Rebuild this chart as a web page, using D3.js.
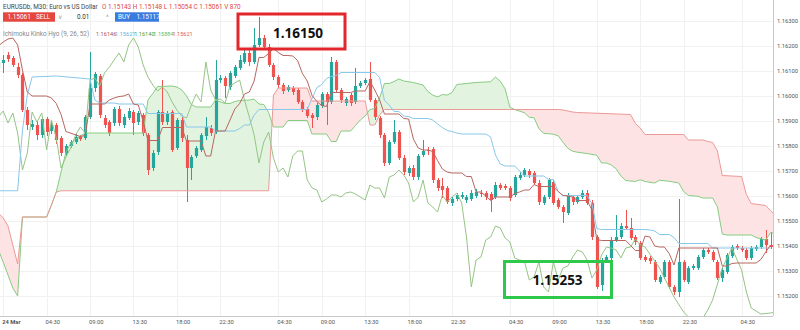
<!DOCTYPE html>
<html>
<head>
<meta charset="utf-8">
<script src="https://cdn.jsdelivr.net/npm/d3@7"></script>
<style>
  body { margin: 0; background: #fff; }
  svg { display: block; font-family: Roboto, "Noto Sans", sans-serif; }
</style>
</head>
<body>
<script>
// EURUSDb M30 candles, bar index -1 = 24 Mar 00:00, one bar per 30 min
const firstBar = -2;
// [open, high, low, close]
const candles = [
  [1.16112,1.16152,1.16088,1.16136],[1.16132,1.16164,1.16092,1.16144],[1.16164,1.16176,1.16136,1.16148],
  [1.16152,1.16160,1.16116,1.16124],[1.16116,1.16132,1.16072,1.16084],[1.16084,1.16092,1.15936,1.15944],
  [1.15944,1.15956,1.15864,1.15884],[1.15876,1.15904,1.15864,1.15888],[1.15884,1.15900,1.15824,1.15844],
  [1.15844,1.15916,1.15832,1.15908],[1.15908,1.15916,1.15840,1.15856],[1.15860,1.15896,1.15848,1.15884],
  [1.15884,1.15892,1.15808,1.15824],[1.15832,1.15840,1.15760,1.15772],[1.15772,1.15808,1.15760,1.15800],
  [1.15800,1.15824,1.15792,1.15816],[1.15816,1.15848,1.15808,1.15836],[1.15836,1.15844,1.15820,1.15828],
  [1.15832,1.15924,1.15824,1.15916],[1.15916,1.16176,1.15908,1.16032],[1.16032,1.16096,1.16016,1.16088],
  [1.16080,1.16088,1.15912,1.15924],[1.15912,1.15924,1.15872,1.15884],[1.15896,1.15904,1.15840,1.15852],
  [1.15892,1.15956,1.15880,1.15948],[1.15948,1.15960,1.15880,1.15892],[1.15884,1.15928,1.15872,1.15916],
  [1.15912,1.15952,1.15904,1.15940],[1.15936,1.15944,1.15844,1.15892],[1.15896,1.15940,1.15884,1.15932],
  [1.15924,1.15932,1.15840,1.15852],[1.15844,1.15852,1.15684,1.15704],[1.15712,1.15784,1.15700,1.15772],
  [1.15776,1.15944,1.15764,1.15936],[1.15936,1.16064,1.15884,1.15896],[1.15896,1.15940,1.15884,1.15932],
  [1.15936,1.15944,1.15776,1.15784],[1.15792,1.15912,1.15784,1.15904],[1.15904,1.15916,1.15816,1.15832],
  [1.15824,1.15844,1.15576,1.15712],[1.15712,1.15764,1.15664,1.15756],[1.15760,1.15800,1.15752,1.15792],
  [1.15784,1.15852,1.15776,1.15844],[1.15840,1.15916,1.15824,1.15876],[1.15872,1.15884,1.15840,1.15852],
  [1.15856,1.16144,1.15848,1.16064],[1.16064,1.16084,1.16052,1.16072],[1.16072,1.16080,1.15992,1.16040],
  [1.16036,1.16100,1.16024,1.16092],[1.16080,1.16124,1.16072,1.16116],[1.16112,1.16164,1.16104,1.16144],
  [1.16136,1.16192,1.16128,1.16172],[1.16172,1.16184,1.16120,1.16136],[1.16136,1.16272,1.16128,1.16204],
  [1.16204,1.16316,1.16196,1.16232],[1.16232,1.16244,1.16184,1.16196],[1.16196,1.16208,1.16116,1.16124],
  [1.16124,1.16132,1.16064,1.16076],[1.16076,1.16084,1.16032,1.16044],[1.16044,1.16052,1.16008,1.16020],
  [1.16024,1.16044,1.16016,1.16036],[1.16032,1.16040,1.16004,1.16016],[1.16024,1.16032,1.15968,1.15976],
  [1.15976,1.15984,1.15936,1.15944],[1.15948,1.15956,1.15912,1.15920],[1.15924,1.15932,1.15872,1.15912],
  [1.15916,1.15972,1.15904,1.15964],[1.15960,1.16016,1.15952,1.16008],[1.16008,1.16016,1.15884,1.15976],
  [1.15976,1.16156,1.15968,1.16136],[1.16136,1.16144,1.16016,1.16024],[1.16024,1.16032,1.15972,1.15984],
  [1.15972,1.15996,1.15960,1.15988],[1.16004,1.16012,1.15960,1.15972],[1.15976,1.16112,1.15968,1.16040],
  [1.16040,1.16060,1.16032,1.16052],[1.16052,1.16072,1.16044,1.16064],[1.16068,1.16136,1.15976,1.15984],
  [1.15984,1.15992,1.15904,1.15916],[1.15912,1.15920,1.15832,1.15844],[1.15844,1.15852,1.15720,1.15732],
  [1.15732,1.15824,1.15724,1.15816],[1.15816,1.15904,1.15808,1.15856],[1.15856,1.15864,1.15744,1.15752],
  [1.15752,1.15764,1.15684,1.15696],[1.15692,1.15720,1.15680,1.15712],[1.15712,1.15724,1.15664,1.15676],
  [1.15676,1.15768,1.15664,1.15760],[1.15764,1.15824,1.15756,1.15780],[1.15784,1.15796,1.15764,1.15780],
  [1.15788,1.15796,1.15652,1.15664],[1.15664,1.15672,1.15620,1.15632],[1.15640,1.15672,1.15592,1.15624],
  [1.15632,1.15640,1.15568,1.15576],[1.15572,1.15596,1.15560,1.15588],[1.15588,1.15612,1.15580,1.15604],
  [1.15596,1.15616,1.15588,1.15604],[1.15584,1.15604,1.15572,1.15596],[1.15588,1.15624,1.15580,1.15612],
  [1.15600,1.15628,1.15592,1.15616],[1.15612,1.15624,1.15596,1.15608],[1.15612,1.15620,1.15584,1.15596],
  [1.15608,1.15616,1.15536,1.15584],[1.15596,1.15656,1.15588,1.15644],[1.15644,1.15652,1.15624,1.15632],
  [1.15640,1.15648,1.15624,1.15632],[1.15632,1.15640,1.15580,1.15592],[1.15604,1.15684,1.15596,1.15676],
  [1.15672,1.15696,1.15664,1.15684],[1.15684,1.15712,1.15676,1.15704],[1.15700,1.15708,1.15672,1.15684],
  [1.15692,1.15700,1.15644,1.15652],[1.15652,1.15664,1.15564,1.15576],[1.15572,1.15604,1.15564,1.15596],
  [1.15596,1.15672,1.15588,1.15664],[1.15656,1.15664,1.15564,1.15572],[1.15584,1.15592,1.15548,1.15556],
  [1.15556,1.15564,1.15492,1.15536],[1.15532,1.15612,1.15524,1.15604],[1.15596,1.15604,1.15564,1.15576],
  [1.15576,1.15604,1.15568,1.15596],[1.15596,1.15624,1.15588,1.15612],[1.15612,1.15624,1.15564,1.15572],
  [1.15572,1.15584,1.15424,1.15436],[1.15436,1.15444,1.15228,1.15236],[1.15244,1.15352,1.15220,1.15344],
  [1.15344,1.15364,1.15336,1.15356],[1.15352,1.15436,1.15344,1.15424],[1.15424,1.15524,1.15416,1.15436],
  [1.15436,1.15492,1.15428,1.15480],[1.15480,1.15544,1.15464,1.15472],[1.15472,1.15512,1.15424,1.15432],
  [1.15436,1.15444,1.15404,1.15416],[1.15412,1.15420,1.15344,1.15352],[1.15356,1.15364,1.15336,1.15344],
  [1.15352,1.15360,1.15328,1.15340],[1.15336,1.15344,1.15256,1.15264],[1.15256,1.15284,1.15248,1.15276],
  [1.15276,1.15344,1.15268,1.15336],[1.15336,1.15344,1.15228,1.15236],[1.15236,1.15244,1.15204,1.15216],
  [1.15216,1.15588,1.15196,1.15336],[1.15336,1.15344,1.15256,1.15264],[1.15256,1.15320,1.15248,1.15312],
  [1.15312,1.15328,1.15304,1.15320],[1.15312,1.15364,1.15304,1.15356],[1.15356,1.15392,1.15348,1.15384],
  [1.15384,1.15392,1.15368,1.15376],[1.15376,1.15384,1.15336,1.15344],[1.15336,1.15344,1.15264,1.15272],
  [1.15272,1.15312,1.15256,1.15304],[1.15296,1.15372,1.15288,1.15364],[1.15360,1.15404,1.15352,1.15396],
  [1.15400,1.15408,1.15384,1.15392],[1.15392,1.15400,1.15376,1.15384],[1.15384,1.15392,1.15344,1.15352],
  [1.15352,1.15400,1.15344,1.15392],[1.15388,1.15404,1.15380,1.15396],[1.15396,1.15436,1.15388,1.15428],
  [1.15428,1.15464,1.15372,1.15404],[1.15404,1.15456,1.15388,1.15396]
];

// Ichimoku lines: [bar, price] at each turning point
const tenkan = [
  [-2,1.16200],[-1,1.16216],[0,1.16228],[1,1.16232],[2,1.16204],[3,1.16104],[4,1.16016],[5,1.16000],[8,1.16000],
  [9,1.15992],[10,1.15970],[11,1.15926],[12,1.15858],[15,1.15838],[16,1.15842],[17,1.15968],[20,1.15968],
  [21,1.15984],[22,1.15992],[23,1.15998],[24,1.16000],[25,1.16008],[26,1.15968],[27,1.15964],[28,1.15900],
  [29,1.15822],[31,1.15822],[32,1.15874],[36,1.15874],[37,1.15820],[40,1.15820],[41,1.15760],[42,1.15760],
  [43,1.15860],[45,1.15860],[46,1.15904],[47,1.15948],[48,1.15970],[49,1.16008],[50,1.16016],[51,1.16060],
  [52,1.16154],[53,1.16154],[54,1.16170],[55,1.16190],[56,1.16174],[57,1.16162],[58,1.16162],[59,1.16160],
  [60,1.16142],[61,1.16090],[62,1.16060],[63,1.16002],[64,1.15978],[65,1.15962],[66,1.15958],[67,1.16014],
  [71,1.16014],[72,1.16020],[74,1.16020],[75,1.16058],[76,1.16024],[77,1.15984],[78,1.15928],[81,1.15928],
  [82,1.15910],[83,1.15908],[84,1.15828],[85,1.15792],[86,1.15784],[87,1.15784],[88,1.15778],[89,1.15742],
  [90,1.15708],[91,1.15696],[92,1.15692],[94,1.15692],[95,1.15678],[96,1.15678],[97,1.15616],[98,1.15616],
  [99,1.15600],[100,1.15582],[101,1.15596],[104,1.15596],[105,1.15610],[106,1.15616],[107,1.15624],[108,1.15624],
  [109,1.15646],[110,1.15638],[113,1.15638],[114,1.15618],[115,1.15602],[116,1.15600],[117,1.15596],[118,1.15582],
  [120,1.15582],[121,1.15544],[122,1.15426],[123,1.15422],[128,1.15422],[129,1.15402],[130,1.15382],[131,1.15382],
  [132,1.15440],[133,1.15436],[134,1.15400],[135,1.15396],[136,1.15396],[137,1.15370],[138,1.15324],[139,1.15392],
  [147,1.15392],[148,1.15320],[149,1.15320],[150,1.15330],[151,1.15332],[155,1.15332],[156,1.15346],[157,1.15376],
  [158,1.15404]
];
const kijun = [
  [-2,1.15621],[2,1.15621],[3,1.15864],[4,1.16004],[5,1.16076],[10,1.16080],[17,1.16068],[18,1.15984],[19,1.15972],
  [22,1.15972],[23,1.15968],[28,1.15968],[29,1.15930],[36,1.15930],[37,1.15876],[42,1.15876],[43,1.15860],
  [47,1.15860],[48,1.15870],[49,1.15884],[50,1.15884],[51,1.15924],[52,1.15946],[62,1.15946],[63,1.15990],
  [64,1.16034],[65,1.16046],[66,1.16070],[67,1.16078],[68,1.16082],[69,1.16094],[76,1.16094],[77,1.16074],
  [78,1.15982],[79,1.15964],[80,1.15938],[81,1.15938],[82,1.15920],[83,1.15918],[84,1.15910],[87,1.15910],
  [88,1.15904],[89,1.15888],[90,1.15874],[91,1.15862],[92,1.15858],[93,1.15852],[94,1.15848],[99,1.15848],
  [100,1.15836],[101,1.15764],[102,1.15728],[103,1.15720],[105,1.15720],[106,1.15700],[107,1.15680],[111,1.15680],
  [112,1.15666],[113,1.15666],[114,1.15618],[115,1.15602],[120,1.15602],[121,1.15568],[122,1.15470],[123,1.15466],
  [132,1.15466],[133,1.15464],[134,1.15460],[135,1.15446],[137,1.15446],[138,1.15434],[139,1.15410],[145,1.15410],
  [146,1.15392],[158,1.15392]
];
const spanA = [
  [-2,1.15384],[-1,1.15336],[0,1.15284],[1,1.15232],[2,1.15200],[3,1.15516],[8,1.15516],[9,1.15564],[10,1.15616],
  [11,1.15696],[12,1.15776],[13,1.15812],[14,1.15828],[15,1.15840],[16,1.15852],[28,1.15852],[29,1.15984],
  [30,1.16010],[31,1.16038],[34,1.16040],[35,1.16036],[36,1.16024],[37,1.16000],[38,1.15966],[39,1.15956],
  [42,1.15956],[43,1.15984],[44,1.15976],[45,1.15970],[46,1.15970],[47,1.15978],[48,1.15982],[50,1.15984],
  [51,1.15988],[52,1.15968],[53,1.15966],[54,1.15934],[55,1.15876],[57,1.15876],[58,1.15902],[62,1.15902],
  [63,1.15848],[66,1.15848],[67,1.15818],[68,1.15818],[69,1.15860],[71,1.15860],[72,1.15882],[73,1.15904],
  [74,1.15920],[75,1.15946],[76,1.15950],[77,1.15992],[78,1.16050],[79,1.16050],[80,1.16058],[81,1.16068],
  [82,1.16060],[84,1.16054],[86,1.16044],[87,1.16018],[88,1.16004],[89,1.15996],[90,1.16006],[91,1.16004],
  [92,1.16014],[93,1.16046],[94,1.16048],[97,1.16054],[100,1.16057],[101,1.16076],[102,1.16059],[103,1.16029],
  [104,1.15955],[105,1.15946],[107,1.15933],[108,1.15915],[109,1.15913],[110,1.15869],[111,1.15851],[113,1.15847],
  [114,1.15841],[115,1.15815],[116,1.15791],[117,1.15779],[118,1.15775],[120,1.15770],[122,1.15763],[123,1.15732],
  [124,1.15732],[125,1.15724],[126,1.15709],[127,1.15680],[128,1.15662],[130,1.15658],[131,1.15665],[132,1.15658],
  [134,1.15652],[135,1.15663],[137,1.15659],[139,1.15652],[140,1.15618],[141,1.15602],[143,1.15599],[144,1.15592],
  [146,1.15592],[147,1.15556],[148,1.15448],[149,1.15444],[154,1.15444],[155,1.15434],[157,1.15424],[158,1.15453],
  [159,1.15450],[160,1.15430]
];
const spanB = [
  [-2,1.15532],[-1,1.15512],[0,1.15480],[1,1.15404],[2,1.15328],[3,1.15516],[8,1.15516],[9,1.15564],[10,1.15616],
  [11,1.15621],[54,1.15621],[55,1.16004],[56,1.16032],[62,1.16032],[63,1.15980],[74,1.15980],[75,1.15884],
  [76,1.15884],[77,1.15924],[78,1.15946],[114,1.15946],[115,1.15944],[117,1.15936],[118,1.15934],[129,1.15926],
  [130,1.15890],[131,1.15872],[132,1.15846],[140,1.15846],[141,1.15824],[144,1.15824],[145,1.15818],[146,1.15814],
  [147,1.15780],[148,1.15682],[152,1.15678],[153,1.15606],[154,1.15570],[157,1.15562],[158,1.15542],[159,1.15522],
  [160,1.15516]
];
// lagging span past the last visible candle (closes of later bars, off the right edge)
const chikouTail = [
  [135,1.15312],[138,1.15196],[140,1.15136],[142,1.15096],[144,1.15112],[145,1.15144],[146,1.15184],
  [148,1.15312],[150,1.15392],[152,1.15304],[153,1.15216],[154,1.15152],[156,1.15128],[158,1.15132],[160,1.15140]
];

const priceTicks = [1.152, 1.153, 1.154, 1.155, 1.156, 1.157, 1.158, 1.159, 1.160, 1.161, 1.162, 1.163];
const timeTicks = [
  [-1,"24 Mar"],[8,"04:30"],[17,"09:00"],[26,"13:30"],[35,"18:00"],[44,"22:30"],[56,"04:30"],[65,"09:00"],
  [74,"13:30"],[83,"18:00"],[92,"22:30"],[104,"04:30"],[113,"09:00"],[122,"13:30"],[131,"18:00"],[140,"22:30"],
  [152,"04:30"]
];

const width = 800, height = 330;
const plotW = 773, plotH = 316;

const x = d3.scaleLinear().domain([0, 153]).range([8, 746.4]);
const y = d3.scaleLinear().domain([1.152, 1.163]).range([296, 21]);

const bars = candles.map((c, i) => ({ bar: firstBar + i, o: c[0], h: c[1], l: c[2], c: c[3] }));
// lagging span: close plotted 26 bars back
const chikou = bars.slice(26).map((d, i) => [bars[i].bar, d.c]).concat(chikouTail);

const svg = d3.select("body").append("svg")
  .attr("width", width).attr("height", height)
  .attr("viewBox", [0, 0, width, height]);

const defs = svg.append("defs");
defs.append("clipPath").attr("id", "plot")
  .append("rect").attr("width", plotW).attr("height", plotH);

const line = d3.line().x(d => x(d[0])).y(d => y(d[1]));
const closeDown = pts => line(pts) + `L${x(pts[pts.length - 1][0])},${plotH + 50}L${x(pts[0][0])},${plotH + 50}Z`;
const closeUp = pts => line(pts) + `L${x(pts[pts.length - 1][0])},-50L${x(pts[0][0])},-50Z`;

defs.append("clipPath").attr("id", "belowA").append("path").attr("d", closeDown(spanA));
defs.append("clipPath").attr("id", "belowB").append("path").attr("d", closeDown(spanB));

// grid
const grid = svg.append("g").attr("stroke", "#f1f1f1").attr("stroke-width", 1);
grid.selectAll("line.h").data(priceTicks).join("line")
  .attr("x1", 0).attr("x2", plotW)
  .attr("y1", d => Math.round(y(d)) + 0.5).attr("y2", d => Math.round(y(d)) + 0.5);
grid.selectAll("line.v").data(timeTicks).join("line")
  .attr("x1", d => Math.round(x(d[0])) + 0.5).attr("x2", d => Math.round(x(d[0])) + 0.5)
  .attr("y1", 0).attr("y2", plotH);

const plot = svg.append("g").attr("clip-path", "url(#plot)");

// cloud: green where span A is above span B, red where B is above A
plot.append("g").attr("clip-path", "url(#belowA)")
  .append("path").attr("d", closeUp(spanB)).attr("fill", "#e2f4df");
plot.append("g").attr("clip-path", "url(#belowB)")
  .append("path").attr("d", closeUp(spanA)).attr("fill", "#fde3e3");

// candles
const body = 3.2;
const cg = plot.append("g");
cg.selectAll("line").data(bars).join("line")
  .attr("x1", d => Math.round(x(d.bar)) + 0.5).attr("x2", d => Math.round(x(d.bar)) + 0.5)
  .attr("y1", d => y(d.h)).attr("y2", d => y(d.l))
  .attr("stroke", d => d.c >= d.o ? "#26a69a" : "#ef5350").attr("stroke-width", 1);
cg.selectAll("rect").data(bars).join("rect")
  .attr("x", d => Math.round(x(d.bar)) + 0.5 - body / 2)
  .attr("width", body)
  .attr("y", d => y(Math.max(d.o, d.c)))
  .attr("height", d => Math.max(1, Math.abs(y(d.o) - y(d.c))))
  .attr("fill", d => d.c >= d.o ? "#26a69a" : "#ef5350");

// indicator lines
const lines = [
  [spanA, "#86cc80"],
  [spanB, "#ec9a96"],
  [chikou, "#96c486"],
  [kijun, "#88c8ea"],
  [tenkan, "#b8665f"]
];
plot.selectAll("path.ind").data(lines).join("path")
  .attr("class", "ind")
  .attr("d", d => line(d[0]))
  .attr("fill", "none")
  .attr("stroke", d => d[1])
  .attr("stroke-width", 1);

// annotations
const notes = svg.append("g");
notes.append("rect").attr("x", 238).attr("y", 14).attr("width", 107).attr("height", 35)
  .attr("fill", "none").attr("stroke", "#e3262c").attr("stroke-width", 3);
notes.append("text").attr("x", 298).attr("y", 38).attr("text-anchor", "middle")
  .attr("font-family", "'Open Sans', sans-serif").attr("font-weight", 700).attr("font-size", 13.5)
  .attr("fill", "#111").text("1.16150");
notes.append("rect").attr("x", 504.5).attr("y", 261.5).attr("width", 107).attr("height", 36)
  .attr("fill", "none").attr("stroke", "#2ec84a").attr("stroke-width", 3);
notes.append("text").attr("x", 557.5).attr("y", 285).attr("text-anchor", "middle")
  .attr("font-family", "'Open Sans', sans-serif").attr("font-weight", 700).attr("font-size", 13.5)
  .attr("fill", "#111").text("1.15253");

// axes
const axis = svg.append("g").attr("font-size", 5.8).attr("fill", "#555");
axis.append("line").attr("x1", plotW + 0.5).attr("x2", plotW + 0.5).attr("y1", 0).attr("y2", plotH)
  .attr("stroke", "#c8c8c8");
axis.append("line").attr("x1", 0).attr("x2", plotW).attr("y1", plotH + 0.5).attr("y2", plotH + 0.5)
  .attr("stroke", "#c8c8c8");
axis.selectAll("text.p").data(priceTicks).join("text")
  .attr("class", "p")
  .attr("x", 777).attr("y", d => y(d) + 2)
  .text(d => d3.format(".5f")(d));
axis.selectAll("text.t").data(timeTicks).join("text")
  .attr("class", "t")
  .attr("x", d => x(d[0]) - 1).attr("y", 324)
  .attr("font-weight", d => d[1].includes(" ") ? 700 : 400)
  .text(d => d[1]);

// header
const head = svg.append("g").attr("font-size", 6.4);
head.append("text").attr("x", 3).attr("y", 9.3).attr("fill", "#444")
  .text("EURUSDb, M30: Euro vs US Dollar");
head.append("text").attr("x", 102).attr("y", 9.3).attr("fill", "#e0463f")
  .text("O 1.15143 H 1.15148 L 1.15054 C 1.15061 V 870");

head.append("rect").attr("x", 3).attr("y", 12.3).attr("width", 52).attr("height", 9.4).attr("fill", "#e5473f");
head.append("text").attr("x", 7.5).attr("y", 19.4).attr("fill", "#fff").text("1.15061");
head.append("text").attr("x", 36).attr("y", 19.4).attr("fill", "#fff").text("SELL");
head.append("text").attr("x", 58).attr("y", 19.4).attr("fill", "#999").text("\u2228");
head.append("text").attr("x", 77).attr("y", 19.4).attr("fill", "#333").text("0.01");
head.append("text").attr("x", 106).attr("y", 20).attr("fill", "#999").text("^");
head.append("rect").attr("x", 115).attr("y", 12.3).attr("width", 44).attr("height", 9.4).attr("fill", "#3a7be0");
head.append("text").attr("x", 118).attr("y", 19.4).attr("fill", "#fff").text("BUY");
head.append("text").attr("x", 136.5).attr("y", 19.4).attr("fill", "#fff").text("1.15117");

head.append("text").attr("x", 3).attr("y", 35.5).attr("fill", "#888")
  .text("Ichimoku Kinko Hyo (9, 26, 52)");
const legend = [["1.16146", "#b0524a"], ["1.15621", "#5cb2e0"], ["1.16140", "#4e9e44"],
                ["1.15884", "#68bc5c"], ["1.15621", "#e0605a"]];
head.selectAll("text.v").data(legend).join("text")
  .attr("class", "v")
  .attr("x", (d, i) => 96 + i * 19.1).attr("y", 35.5)
  .attr("fill", d => d[1]).attr("font-size", 5.6)
  .text(d => d[0]);
</script>
</body>
</html>
